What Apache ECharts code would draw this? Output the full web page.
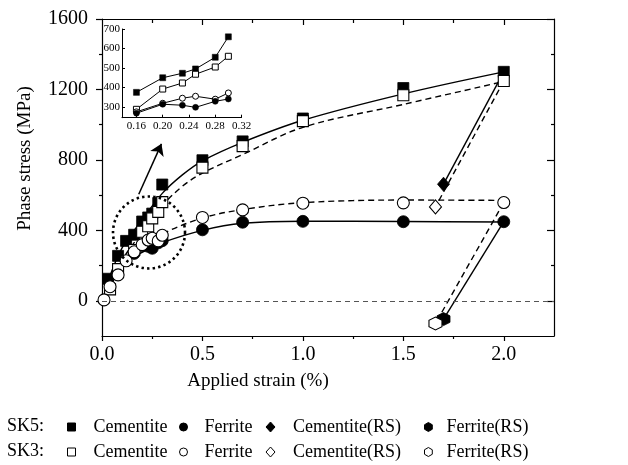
<!DOCTYPE html>
<html><head><meta charset="utf-8">
<script src="https://cdn.jsdelivr.net/npm/echarts@6/dist/echarts.min.js"></script>
<style>html,body{margin:0;padding:0;background:#fff}#c{width:628px;height:465px}</style>
</head><body><div id="c"></div>
<script>
// ---------- DATA ----------
// SK5 cementite (filled squares)
const strainSK5Cem = [0.03, 0.08, 0.12, 0.16, 0.20, 0.23, 0.25, 0.28, 0.30, 0.5, 0.7, 1.0, 1.5, 2.0];
const stressSK5Cem = [125, 255, 340, 375, 450, 473, 495, 555, 660, 798, 905, 1035, 1208, 1300];
// SK3 cementite (open squares)
const strainSK3Cem = [0.04, 0.08, 0.16, 0.20, 0.23, 0.25, 0.28, 0.30, 0.5, 0.7, 1.0, 1.5, 2.0];
const stressSK3Cem = [65, 180, 288, 392, 423, 468, 505, 560, 756, 878, 1020, 1167, 1248];
// SK5 ferrite (filled circles)
const strainSK5Fer = [0.16, 0.20, 0.23, 0.25, 0.28, 0.30, 0.5, 0.7, 1.0, 1.5, 2.0];
const stressSK5Fer = [269, 314, 309, 298, 329, 341, 403, 446, 451, 449, 449];
// SK3 ferrite (open circles)
const strainSK3Fer = [0.01, 0.04, 0.08, 0.12, 0.16, 0.20, 0.23, 0.25, 0.28, 0.30, 0.5, 0.7, 1.0, 1.5, 2.0];
const stressSK3Fer = [5, 80, 147, 227, 278, 319, 345, 355, 340, 372, 473, 516, 554, 556, 558];
// residual stress points
const strainRS_SK5 = [1.70];
const strainRS_SK3 = [1.66];
const stressSK5CemRS = [662];
const stressSK3CemRS = [533];
const stressSK5FerRS = [-104];
const stressSK3FerRS = [-129];
// fitted curves
const fitStrainSK5Cem = [0.03, 0.1, 0.2, 0.3, 0.4, 0.5, 0.7, 1.0, 1.5, 2.0];
const fitStressSK5Cem = [110, 300, 460, 610, 715, 795, 900, 1025, 1175, 1300];
const fitStrainSK3Cem = [0.03, 0.1, 0.2, 0.3, 0.4, 0.5, 0.7, 1.0, 1.5, 2.0];
const fitStressSK3Cem = [55, 230, 390, 540, 650, 725, 830, 985, 1115, 1245];
const fitStrainSK5Fer = [0.02, 0.1, 0.2, 0.3, 0.5, 0.7, 1.0, 1.5, 2.0];
const fitStressSK5Fer = [80, 210, 275, 330, 400, 440, 452, 450, 447];
const fitStrainSK3Fer = [0.01, 0.05, 0.1, 0.2, 0.3, 0.5, 0.7, 1.0, 1.5, 2.0];
const fitStressSK3Fer = [10, 100, 200, 310, 380, 470, 518, 557, 572, 570];
// inset
const insetStrain = [0.16, 0.20, 0.23, 0.25, 0.28, 0.30];
const insetSK5Cem = [375, 450, 473, 495, 555, 660];
const insetSK3Cem = [288, 392, 423, 468, 505, 560];
const insetSK3Fer = [275, 319, 345, 355, 340, 372];
const insetSK5Fer = [268, 314, 309, 298, 329, 341];
// ticks
const xMajorTicks = [0, 0.5, 1.0, 1.5, 2.0];
const xMinorTicks = [0.25, 0.75, 1.25, 1.75];
const yMajorTicks = [0, 400, 800, 1200, 1600];
const yMinorTicks = [200, 600, 1000, 1400];
const insetXTicks = [0.16, 0.20, 0.24, 0.28, 0.32];
const insetYTicks = [300, 400, 500, 600, 700];
// annotation (zoom circle and arrow), in data units
const zoomCircleCenter = [0.234, 388];
const arrowFrom = [0.183, 605];
const arrowTo = [0.296, 891];

// ---------- BUILD ----------
const zip = (xs, ys) => xs.map((x, i) => [x, ys[i]]);
const last = (xs, ys) => [xs[xs.length - 1], ys[ys.length - 1]];
const FONT = "'Liberation Serif','Times New Roman',Times,serif";
const HEX = 'path://M0,-1 L0.866,-0.5 L0.866,0.5 L0,1 L-0.866,0.5 L-0.866,-0.5 Z';
const black = '#000';

const grid = { left: 102, right: 74, top: 19, bottom: 129 };

function mainLine(data, dashed, extra) {
  return Object.assign({
    type: 'line', xAxisIndex: 0, yAxisIndex: 0, data, symbol: 'none', smooth: 0.35,
    silent: true, z: 2,
    lineStyle: { color: black, width: 1.4, type: dashed ? [6, 4] : 'solid' }
  }, extra || {});
}
function mainScatter(name, data, symbol, size, filled) {
  return {
    type: 'scatter', name, xAxisIndex: 0, yAxisIndex: 0, data, symbol, symbolSize: size, z: 4,
    itemStyle: filled ? { color: black, borderColor: black, borderWidth: 0.8, opacity: 1 }
                      : { color: '#fff', borderColor: black, borderWidth: 1.1, opacity: 1 }
  };
}
function insetLine(data, symbol, filled) {
  return {
    type: 'line', xAxisIndex: 4, yAxisIndex: 4, data, symbol, symbolSize: 6, z: 6, silent: true,
    showSymbol: true,
    lineStyle: { color: black, width: 1 },
    itemStyle: filled ? { color: black, borderColor: black, borderWidth: 0.5, opacity: 1 }
                      : { color: '#fff', borderColor: black, borderWidth: 1, opacity: 1 }
  };
}

const series = [
  mainLine(zip(fitStrainSK5Cem, fitStressSK5Cem), false, {
    markLine: {
      silent: true, symbol: ['none', 'none'], label: { show: false },
      lineStyle: { type: [5, 4], color: '#555', width: 1 },
      data: [{ yAxis: 0 }]
    }
  }),
  mainLine(zip(fitStrainSK3Cem, fitStressSK3Cem), true),
  mainLine(zip(fitStrainSK5Fer, fitStressSK5Fer), false),
  mainLine(zip(fitStrainSK3Fer, fitStressSK3Fer), true),
  mainLine([last(strainSK5Cem, stressSK5Cem), [strainRS_SK5[0], stressSK5CemRS[0]]], false, { smooth: false }),
  mainLine([last(strainSK3Cem, stressSK3Cem), [strainRS_SK3[0], stressSK3CemRS[0]]], true, { smooth: false }),
  mainLine([last(strainSK5Fer, stressSK5Fer), [strainRS_SK5[0], stressSK5FerRS[0]]], false, { smooth: false }),
  mainLine([last(strainSK3Fer, stressSK3Fer), [strainRS_SK3[0], stressSK3FerRS[0]]], true, {
    smooth: false,
    markLine: {
      silent: true, symbol: ['none', 'arrow'], symbolSize: 11, label: { show: false },
      lineStyle: { type: 'solid', color: black, width: 1.5 },
      data: [[{ coord: arrowFrom }, { coord: arrowTo }]]
    }
  }),
  {
    type: 'custom', xAxisIndex: 0, yAxisIndex: 0, silent: true, z: 5,
    data: [zoomCircleCenter],
    renderItem: function (params, api) {
      const c = api.coord([api.value(0), api.value(1)]);
      return {
        type: 'circle', shape: { cx: c[0], cy: c[1], r: 36 },
        style: { fill: 'none', stroke: black, lineWidth: 2.6, lineDash: [2.4, 3.2] }
      };
    }
  },
  mainScatter('SK5 Cementite', zip(strainSK5Cem, stressSK5Cem), 'rect', 11, true),
  mainScatter('SK5 Ferrite', zip(strainSK5Fer, stressSK5Fer), 'circle', 12, true),
  mainScatter('SK5 Cementite(RS)', zip(strainRS_SK5, stressSK5CemRS), 'diamond', [12, 14], true),
  mainScatter('SK5 Ferrite(RS)', zip(strainRS_SK5, stressSK5FerRS), HEX, 13, true),
  mainScatter('SK3 Cementite', zip(strainSK3Cem, stressSK3Cem), 'rect', 11, false),
  mainScatter('SK3 Ferrite', zip(strainSK3Fer, stressSK3Fer), 'circle', 12, false),
  mainScatter('SK3 Cementite(RS)', zip(strainRS_SK3, stressSK3CemRS), 'diamond', [12, 14], false),
  mainScatter('SK3 Ferrite(RS)', zip(strainRS_SK3, stressSK3FerRS), HEX, 13, false),
  insetLine(zip(insetStrain, insetSK5Cem), 'rect', true),
  insetLine(zip(insetStrain, insetSK3Cem), 'rect', false),
  insetLine(zip(insetStrain, insetSK3Fer), 'circle', false),
  insetLine(zip(insetStrain, insetSK5Fer), 'circle', true)
];

const lineBlack = { show: true, onZero: false, lineStyle: { color: black, width: 1.2 } };
const noLine = { show: false, onZero: false };
const tickStyle = { color: black, width: 1.2 };
const labelStyle = { color: black, fontFamily: FONT, fontSize: 20 };

const xAxis = [
  { gridIndex: 0, type: 'value', position: 'bottom', min: 0, max: 2.25, interval: 0.25,
    axisLine: lineBlack, splitLine: { show: false },
    axisTick: { show: true, inside: false, length: 5, lineStyle: tickStyle, customValues: xMajorTicks },
    axisLabel: Object.assign({ margin: 9, customValues: xMajorTicks, formatter: v => Number(v).toFixed(1) }, labelStyle),
    name: 'Applied strain (%)', nameLocation: 'middle', nameGap: 36,
    nameTextStyle: { color: black, fontFamily: FONT, fontSize: 19, padding: [0, 140, 0, 0] } },
  { gridIndex: 0, type: 'value', position: 'top', min: 0, max: 2.25, interval: 0.25,
    axisLine: lineBlack, splitLine: { show: false },
    axisTick: { show: true, inside: true, length: 6, lineStyle: tickStyle, customValues: xMajorTicks.slice(1) },
    axisLabel: { show: false } },
  { gridIndex: 1, type: 'value', position: 'bottom', min: 0, max: 2.25, interval: 0.25,
    axisLine: noLine, splitLine: { show: false },
    axisTick: { show: true, inside: false, length: 3, lineStyle: tickStyle, customValues: xMinorTicks },
    axisLabel: { show: false } },
  { gridIndex: 1, type: 'value', position: 'top', min: 0, max: 2.25, interval: 0.25,
    axisLine: noLine, splitLine: { show: false },
    axisTick: { show: true, inside: true, length: 4, lineStyle: tickStyle, customValues: xMinorTicks },
    axisLabel: { show: false } },
  { gridIndex: 2, type: 'value', position: 'bottom', min: 0.138, max: 0.32,
    axisLine: { show: true, onZero: false, lineStyle: { color: black, width: 1 } }, splitLine: { show: false },
    axisTick: { show: true, inside: true, length: 3, lineStyle: { color: black, width: 1 }, customValues: insetXTicks },
    axisLabel: { color: black, fontFamily: FONT, fontSize: 11, margin: 3, customValues: insetXTicks, formatter: v => Number(v).toFixed(2) } }
];
const yAxis = [
  { gridIndex: 0, type: 'value', position: 'left', min: -200, max: 1600, interval: 200,
    axisLine: lineBlack, splitLine: { show: false },
    axisTick: { show: true, inside: false, length: 6, lineStyle: tickStyle, customValues: yMajorTicks },
    axisLabel: Object.assign({ margin: 14, customValues: yMajorTicks, formatter: v => String(Math.round(v)) }, labelStyle),
    name: 'Phase stress (MPa)', nameLocation: 'middle', nameGap: 67,
    nameTextStyle: { color: black, fontFamily: FONT, fontSize: 19, padding: [0, 0, 0, 38] } },
  { gridIndex: 0, type: 'value', position: 'right', min: -200, max: 1600, interval: 200,
    axisLine: lineBlack, splitLine: { show: false },
    axisTick: { show: true, inside: true, length: 7, lineStyle: tickStyle, customValues: yMajorTicks },
    axisLabel: { show: false } },
  { gridIndex: 1, type: 'value', position: 'left', min: -200, max: 1600, interval: 200,
    axisLine: noLine, splitLine: { show: false },
    axisTick: { show: true, inside: false, length: 3, lineStyle: tickStyle, customValues: yMinorTicks },
    axisLabel: { show: false } },
  { gridIndex: 1, type: 'value', position: 'right', min: -200, max: 1600, interval: 200,
    axisLine: noLine, splitLine: { show: false },
    axisTick: { show: true, inside: true, length: 3, lineStyle: tickStyle, customValues: yMinorTicks },
    axisLabel: { show: false } },
  { gridIndex: 2, type: 'value', position: 'left', min: 245, max: 700,
    axisLine: { show: true, onZero: false, lineStyle: { color: black, width: 1 } }, splitLine: { show: false },
    axisTick: { show: true, inside: true, length: 3, lineStyle: { color: black, width: 1 }, customValues: insetYTicks },
    axisLabel: { color: black, fontFamily: FONT, fontSize: 11, margin: 2, customValues: insetYTicks, formatter: v => String(Math.round(v)) } }
];

// legends: one per entry for exact placement
const legendSpec = [
  ['SK5 Cementite', 71, 427, 13, 8, 8], ['SK5 Ferrite', 183, 427, 12, 8, 8],
  ['SK5 Cementite(RS)', 270, 427, 13, 9, 10], ['SK5 Ferrite(RS)', 428, 427, 9, 8, 9],
  ['SK3 Cementite', 71, 452, 13, 8, 8], ['SK3 Ferrite', 183, 452, 12, 8, 8],
  ['SK3 Cementite(RS)', 270, 452, 13, 9, 10], ['SK3 Ferrite(RS)', 428, 452, 9, 8, 9]
];
const legend = legendSpec.map(([name, cx, cy, pad, w, h]) => ({
  data: [name], left: cx - w / 2, top: cy - 10, padding: 0, itemWidth: w, itemHeight: h,
  selectedMode: false, orient: 'horizontal',
  itemStyle: { borderWidth: 1, opacity: 1 },
  formatter: n => n.slice(4),
  textStyle: { color: black, fontFamily: FONT, fontSize: 18, padding: [0, 0, 0, pad], lineHeight: 20 }
}));

const option = {
  animation: false,
  backgroundColor: '#fff',
  grid: [
    Object.assign({}, grid),
    Object.assign({}, grid),
    { left: 122, top: 29, width: 119.5, height: 88.7 }
  ],
  xAxis, yAxis, series, legend,
  graphic: [
    { type: 'text', left: 7, top: 417, style: { text: 'SK5:', fill: black, font: '18px ' + FONT } },
    { type: 'text', left: 7, top: 442, style: { text: 'SK3:', fill: black, font: '18px ' + FONT } }
  ]
};
const chart = echarts.init(document.getElementById('c'), null, { renderer: 'canvas' });
chart.setOption(option);
</script></body></html>
